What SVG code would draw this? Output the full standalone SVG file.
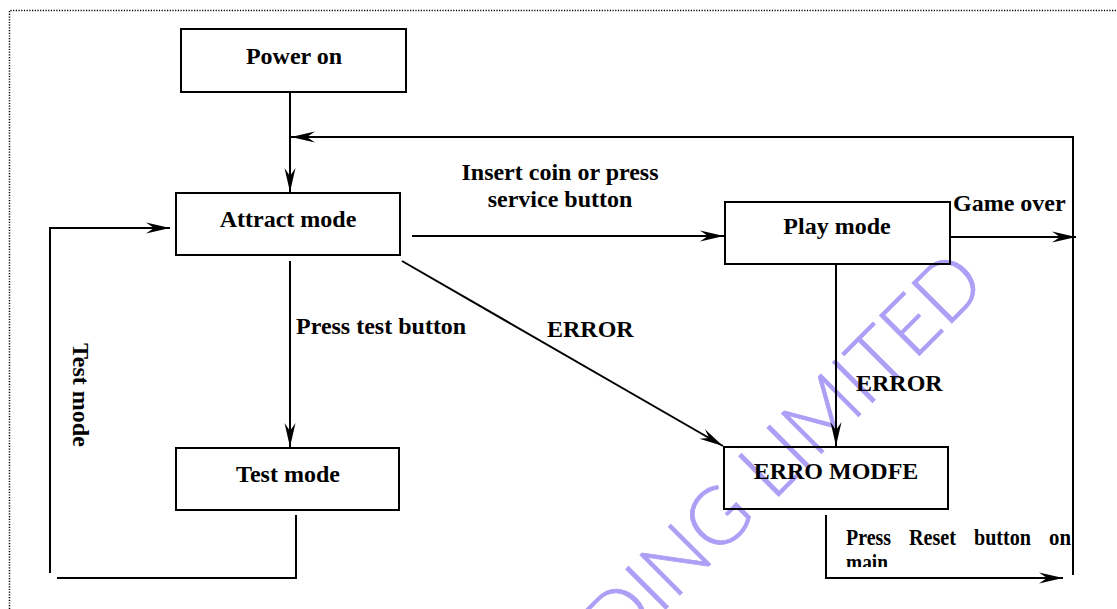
<svg xmlns="http://www.w3.org/2000/svg" width="1117" height="609" viewBox="0 0 1117 609">
<defs>
<marker id="ah" markerUnits="userSpaceOnUse" markerWidth="30" markerHeight="16" viewBox="-26 -8 28 16" refX="0" refY="0" orient="auto">
<path d="M0,0 L-24,-5.5 L-16,0 L-24,5.5 Z" fill="#000"/>
</marker>
<clipPath id="resetclip"><rect x="820" y="520" width="260" height="47"/></clipPath>
</defs>
<style>
.box{fill:none;stroke:#000;stroke-width:2}
.t{font-family:"Liberation Serif","Times New Roman",serif;font-weight:bold;font-size:24px;fill:#000}
.c{text-anchor:middle}
.ln{fill:none;stroke:#000;stroke-width:2}
.wm{font-family:Lato,"Open Sans",sans-serif;font-weight:300;font-size:80px;fill:#ad9ff6;stroke:#ad9ff6;stroke-width:0.8}
</style>
<rect width="1117" height="609" fill="#fff"/>
<g id="border">
<path d="M9.5,609 V10.5 H1117" fill="none" stroke="#000" stroke-width="1.5" stroke-dasharray="1.2 1.5"/>
</g>
<g id="watermark">
<text class="wm" transform="translate(617,658) rotate(-45)" textLength="526" lengthAdjust="spacing">DING LIMITED</text>
</g>
<g id="connectors">
<path class="ln" d="M290,92 V192" marker-end="url(#ah)"/>
<path class="ln" d="M1073,575 V137 H291" marker-end="url(#ah)"/>
<path class="ln" d="M412,236 H724" marker-end="url(#ah)"/>
<path class="ln" d="M402,261 L723,446" marker-end="url(#ah)"/>
<path class="ln" d="M290,261 V447" marker-end="url(#ah)"/>
<path class="ln" d="M296,515 V578 H57"/>
<path class="ln" d="M50,573 V228 H170" marker-end="url(#ah)"/>
<path class="ln" d="M836,264 V446" marker-end="url(#ah)"/>
<path class="ln" d="M951,237 H1076" marker-end="url(#ah)"/>
<path class="ln" d="M826,515 V578 H1063" marker-end="url(#ah)"/>
</g>
<g id="labels">
<text class="t c" x="560" y="180">Insert coin or press</text>
<text class="t c" x="560" y="207">service button</text>
<text class="t" x="953" y="211">Game over</text>
<text class="t" x="296" y="334">Press test button</text>
<text class="t" x="547" y="337">ERROR</text>
<text class="t" x="856" y="391">ERROR</text>
<text class="t" transform="translate(73,343) rotate(90)">Test mode</text>
<g clip-path="url(#resetclip)">
<text class="t" x="846" y="545" textLength="45" lengthAdjust="spacingAndGlyphs">Press</text>
<text class="t" x="909" y="545" textLength="47" lengthAdjust="spacingAndGlyphs">Reset</text>
<text class="t" x="974" y="545" textLength="57" lengthAdjust="spacingAndGlyphs">button</text>
<text class="t" x="1049" y="545" textLength="22" lengthAdjust="spacingAndGlyphs">on</text>
<text class="t" x="846" y="570" textLength="42" lengthAdjust="spacingAndGlyphs">main</text>
</g>
</g>
<g id="power-on">
<rect class="box" x="181" y="29" width="225" height="63"/>
<text class="t c" x="294" y="64">Power on</text>
</g>
<g id="attract-mode">
<rect class="box" x="176" y="193" width="224" height="62"/>
<text class="t c" x="288" y="227">Attract mode</text>
</g>
<g id="play-mode">
<rect class="box" x="725" y="202" width="225" height="62"/>
<text class="t c" x="837" y="234">Play mode</text>
</g>
<g id="test-mode">
<rect class="box" x="176" y="448" width="223" height="62"/>
<text class="t c" x="288" y="482">Test mode</text>
</g>
<g id="erro-mode">
<rect class="box" x="724" y="447" width="224" height="62"/>
<text class="t c" x="836" y="479">ERRO MODFE</text>
</g>
</svg>
